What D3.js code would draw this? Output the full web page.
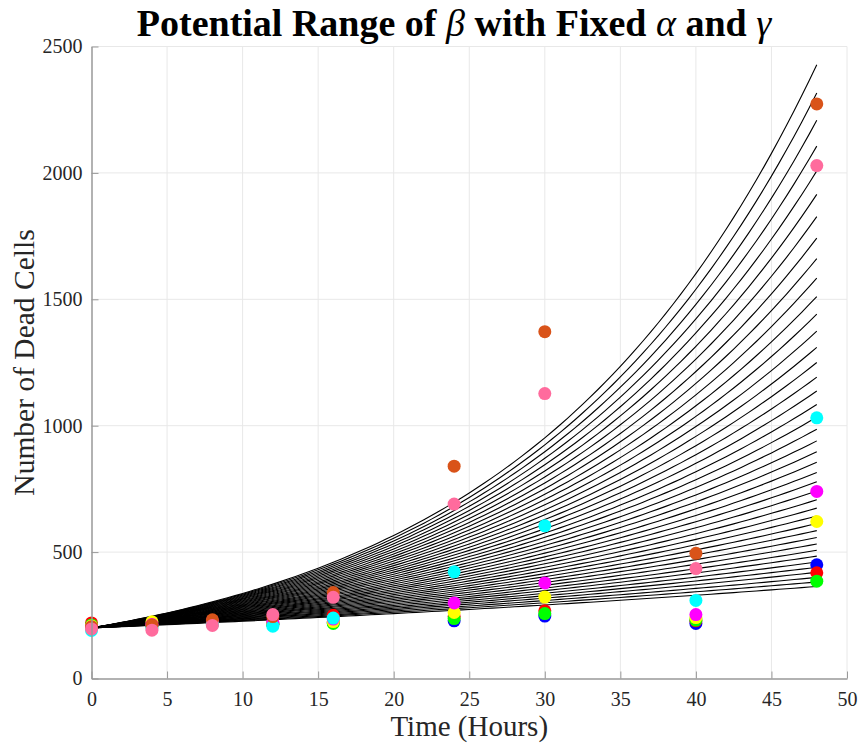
<!DOCTYPE html>
<html lang="en">
<head>
<meta charset="utf-8">
<title>Potential Range of beta</title>
<script src="https://d3js.org/d3.v7.min.js"></script>
<style>
  body { margin: 0; background: #fff; }
  svg text { font-family: "Liberation Serif", "Times New Roman", serif; fill: #262626; }
  .grid line { stroke: #e8e8e8; stroke-width: 1px; }
  .model { fill: none; stroke: #000; stroke-width: 1.1px; }
</style>
</head>
<body>
<svg width="860" height="744"></svg>
<script>
// time points of the measurements (hours)
var times = [0, 4, 8, 12, 16, 24, 30, 40, 48];

// measured dead cells, one array per experiment
var blueData    = [205, 210, 218, 215, 222, 228, 247, 218, 450];
var redData     = [220, 212, 222, 218, 250, 245, 268, 228, 418];
var greenData   = [212, 208, 216, 214, 218, 237, 257, 231, 385];
var yellowData  = [208, 224, 220, 220, 225, 261, 322, 241, 621];
var magentaData = [203, 214, 228, 224, 235, 299, 378, 253, 740];
var cyanData    = [190, 200, 214, 207, 239, 422, 604, 309, 1031];
var orangeData  = [205, 212, 232, 245, 340, 840, 1372, 495, 2273];
var pinkData    = [196, 191, 210, 253, 321, 690, 1127, 435, 2029];

// model curves: start value and value reached at 48 h for each beta
var startValue = 200;
var endValues = [2428, 2316, 2208, 2106, 2008, 1915, 1827, 1742, 1661, 1584,
                 1511, 1441, 1374, 1310, 1250, 1192, 1137, 1084, 1034, 986,
                 940, 897, 855, 815, 778, 742, 707, 674, 643, 613,
                 585, 558, 532, 507, 484, 461, 440, 420, 400, 382, 364];

var xTicks = [0, 5, 10, 15, 20, 25, 30, 35, 40, 45, 50];
var yTicks = [0, 500, 1000, 1500, 2000, 2500];

var svg = d3.select("svg");
var margin = {top: 46.5, right: 13, bottom: 65.5, left: 91.5};
var width = +svg.attr("width") - margin.left - margin.right;
var height = +svg.attr("height") - margin.top - margin.bottom;
var g = svg.append("g").attr("transform", `translate(${margin.left}, ${margin.top})`);

var xScale = d3.scaleLinear().domain([0, 50]).range([0, width]);
var yScale = d3.scaleLinear().domain([0, 2500]).range([height, 0]);

// grid
var grid = g.append("g").attr("class", "grid");
grid.selectAll(".gx").data(xTicks.slice(1)).enter().append("line")
    .attr("x1", d => xScale(d)).attr("x2", d => xScale(d))
    .attr("y1", 0).attr("y2", height);
grid.selectAll(".gy").data(yTicks.slice(1)).enter().append("line")
    .attr("x1", 0).attr("x2", width)
    .attr("y1", d => yScale(d)).attr("y2", d => yScale(d));

// model curves
var sampleT = d3.range(0, 48.01, 0.5);
var line = d3.line()
    .x(d => xScale(d.t))
    .y(d => yScale(d.v));
g.selectAll(".model").data(endValues).enter().append("path")
    .attr("class", "model")
    .attr("d", e => line(sampleT.map(t => ({t: t, v: startValue * Math.pow(e / startValue, t / 48)}))));

// data points
var series = [
  {values: blueData, color: "#0000ff"},
  {values: redData, color: "#ff0000"},
  {values: greenData, color: "#00ff00"},
  {values: yellowData, color: "#ffff00"},
  {values: magentaData, color: "#ff00ff"},
  {values: cyanData, color: "#00ffff"},
  {values: orangeData, color: "#d95319"},
  {values: pinkData, color: "#ff6b9d"}
];
series.forEach(function(s) {
  g.append("g").selectAll("circle").data(s.values).enter().append("circle")
      .attr("cx", (d, i) => xScale(times[i]))
      .attr("cy", d => yScale(d))
      .attr("r", 6.5)
      .attr("fill", s.color);
});

// axes (ticks point inward, MATLAB style)
var xAxis = g.append("g")
    .attr("transform", `translate(0, ${height})`)
    .call(d3.axisBottom(xScale).tickValues(xTicks).tickFormat(d3.format("d"))
      .tickSize(-7).tickPadding(13).tickSizeOuter(0));
var yAxis = g.append("g")
    .call(d3.axisLeft(yScale).tickValues(yTicks).tickFormat(d3.format("d"))
      .tickSize(-7).tickPadding(9).tickSizeOuter(0));
[xAxis, yAxis].forEach(function(a) {
  a.select(".domain").attr("stroke", "#999").attr("stroke-width", 1.5);
  a.selectAll(".tick line").attr("stroke", "#999");
  a.selectAll(".tick text").attr("font-size", "20px")
      .attr("font-family", "Liberation Serif, serif").attr("fill", "#262626");
});
xAxis.selectAll(".tick text").attr("dy", "0.71em");

// labels
svg.append("text")
    .attr("x", margin.left + width / 2)
    .attr("y", 736)
    .attr("text-anchor", "middle")
    .attr("font-size", "29px")
    .text("Time (Hours)");

svg.append("text")
    .attr("transform", `translate(34, ${margin.top + height / 2}) rotate(-90)`)
    .attr("text-anchor", "middle")
    .attr("font-size", "29.5px")
    .text("Number of Dead Cells");

var title = svg.append("text")
    .attr("x", 454)
    .attr("y", 36)
    .attr("text-anchor", "middle")
    .attr("font-size", "38px")
    .attr("font-weight", "bold")
    .style("fill", "#000");
title.append("tspan").text("Potential Range of ");
title.append("tspan").attr("font-style", "italic").attr("font-weight", "normal").text("β");
title.append("tspan").text(" with Fixed ");
title.append("tspan").attr("font-style", "italic").attr("font-weight", "normal").text("α");
title.append("tspan").text(" and ");
title.append("tspan").attr("font-style", "italic").attr("font-weight", "normal").text("γ");
</script>
</body>
</html>
